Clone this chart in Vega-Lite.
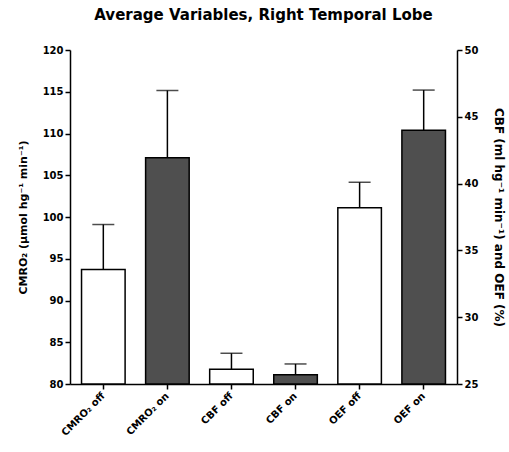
{
  "$schema": "https://vega.github.io/schema/vega-lite/v6.json",
  "autosize": {"type": "none"},
  "padding": {"left": 70, "top": 50, "right": 52, "bottom": 68},
  "width": 387,
  "height": 334,
  "background": "white",
  "title": {
    "text": "Average Variables, Right Temporal  Lobe",
    "font": "DejaVu Sans",
    "fontSize": 15,
    "fontWeight": "bold",
    "color": "black",
    "offset": 22
  },
  "config": {
    "view": {"stroke": null},
    "axis": {
      "labelFont": "DejaVu Sans",
      "labelFontWeight": "bold",
      "labelFontSize": 10,
      "labelColor": "black",
      "titleFont": "DejaVu Sans",
      "titleFontWeight": "bold",
      "titleFontSize": 11,
      "titleColor": "black",
      "domainColor": "black",
      "domainWidth": 1.5,
      "tickColor": "black",
      "tickWidth": 1.5,
      "tickSize": 5,
      "grid": false
    }
  },
  "data": {
    "values": [
      {"label": "CMRO₂ off", "state": "off", "side": "left", "mean": 93.7, "upper": 99.1},
      {"label": "CMRO₂ on", "state": "on", "side": "left", "mean": 107.1, "upper": 115.15},
      {"label": "CBF off", "state": "off", "side": "right", "mean": 26.1, "upper": 27.3},
      {"label": "CBF on", "state": "on", "side": "right", "mean": 25.7, "upper": 26.5},
      {"label": "OEF off", "state": "off", "side": "right", "mean": 38.2, "upper": 40.1},
      {"label": "OEF on", "state": "on", "side": "right", "mean": 44.0, "upper": 47.0}
    ]
  },
  "encoding": {
    "x": {
      "field": "label",
      "type": "nominal",
      "sort": null,
      "scale": {
        "domain": ["CMRO₂ off", "CMRO₂ on", "CBF off", "CBF on", "OEF off", "OEF on"],
        "paddingInner": 0.32,
        "paddingOuter": 0.18
      },
      "axis": {"title": null, "labelAngle": -45, "labelAlign": "right", "labelBaseline": "middle", "labelPadding": 5, "labelFontSize": 10}
    }
  },
  "layer": [
    {
      "transform": [{"filter": "datum.side === 'left'"}],
      "encoding": {
        "y": {
          "type": "quantitative",
          "scale": {"domain": [80, 120], "zero": false, "nice": false},
          "axis": {
            "orient": "left",
            "values": [80, 85, 90, 95, 100, 105, 110, 115, 120],
            "title": "CMRO₂ (µmol hg⁻¹ min⁻¹)",
            "titlePadding": 14
          }
        }
      },
      "layer": [
        {
          "mark": {"type": "rule", "color": "black", "strokeWidth": 1.5},
          "encoding": {"y": {"field": "mean", "type": "quantitative"}, "y2": {"field": "upper"}}
        },
        {
          "mark": {"type": "tick", "color": "black", "thickness": 1.5, "size": 22},
          "encoding": {"y": {"field": "upper", "type": "quantitative"}}
        },
        {
          "mark": {"type": "bar", "stroke": "black", "strokeWidth": 1.5},
          "encoding": {
            "y": {"field": "mean", "type": "quantitative"},
            "y2": {"datum": 80},
            "fill": {
              "field": "state",
              "type": "nominal",
              "scale": {"domain": ["off", "on"], "range": ["#ffffff", "#4f4f4f"]},
              "legend": null
            }
          }
        }
      ]
    },
    {
      "transform": [{"filter": "datum.side === 'right'"}],
      "encoding": {
        "y": {
          "type": "quantitative",
          "scale": {"domain": [25, 50], "zero": false, "nice": false},
          "axis": {
            "orient": "right",
            "values": [25, 30, 35, 40, 45, 50],
            "title": "CBF (ml hg⁻¹ min⁻¹) and OEF  (%)",
            "titleFontSize": 12,
            "titlePadding": 14
          }
        }
      },
      "layer": [
        {
          "mark": {"type": "rule", "color": "black", "strokeWidth": 1.5},
          "encoding": {"y": {"field": "mean", "type": "quantitative"}, "y2": {"field": "upper"}}
        },
        {
          "mark": {"type": "tick", "color": "black", "thickness": 1.5, "size": 22},
          "encoding": {"y": {"field": "upper", "type": "quantitative"}}
        },
        {
          "mark": {"type": "bar", "stroke": "black", "strokeWidth": 1.5},
          "encoding": {
            "y": {"field": "mean", "type": "quantitative"},
            "y2": {"datum": 25},
            "fill": {
              "field": "state",
              "type": "nominal",
              "scale": {"domain": ["off", "on"], "range": ["#ffffff", "#4f4f4f"]},
              "legend": null
            }
          }
        }
      ]
    }
  ],
  "resolve": {"scale": {"y": "independent"}, "axis": {"y": "independent"}}
}
